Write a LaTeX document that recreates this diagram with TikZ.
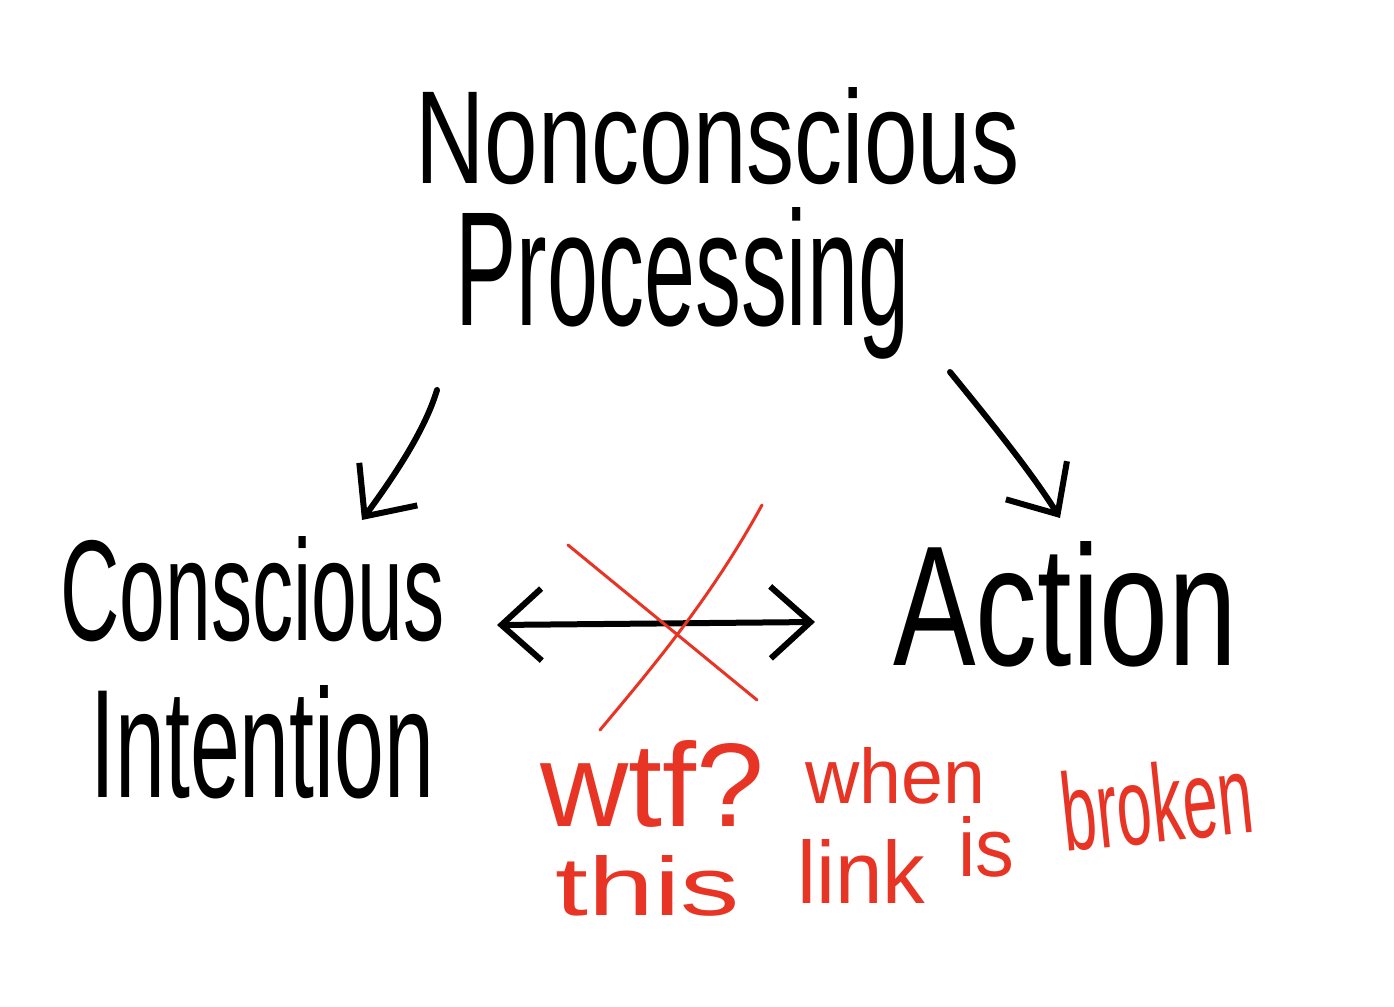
\documentclass[tikz,border=0pt]{standalone}
\usepackage{fontspec}
\setmainfont{Liberation Sans}
\usetikzlibrary{arrows.meta}
\definecolor{penred}{RGB}{232,52,36}
\begin{document}
\begin{tikzpicture}[x=0.5pt,y=-0.5pt,
  lbl/.style={inner sep=0pt, anchor=base west},
  redlbl/.style={lbl, text=penred},
  ink/.style={line width=3pt, line cap=round, line join=round},
  redline/.style={draw=penred, line width=1.5pt, line cap=round},
  barb/.tip={Straight Barb[length=20pt,width=36pt,line width=3pt]}]
\useasboundingbox (0,0) rectangle (1394,1007);
\fill[white] (0,0) rectangle (1394,1007);
% black labels
\node[lbl] (non) at (415,183) {\resizebox{302pt}{48pt}{Nonconscious}};
\node[lbl] (proc) at (455,325) {\resizebox{227pt}{59pt}{Processing}};
\node[lbl] (consc) at (60,640) {\resizebox{192pt}{52pt}{Conscious}};
\node[lbl] (inten) at (90,797) {\resizebox{172pt}{56pt}{Intention}};
\node[lbl] (act) at (893,665) {\resizebox{172pt}{62pt}{Action}};
% red labels
\node[redlbl] (wtf) at (540,826) {\resizebox{112pt}{43pt}{wtf?}};
\node[redlbl] (when) at (805,803) {\resizebox{90pt}{28pt}{when}};
\node[redlbl] (this) at (555,915) {\resizebox{92pt}{30pt}{this}};
\node[redlbl] (link) at (797,903) {\resizebox{64pt}{32pt}{link}};
\node[redlbl] (is) at (958,876) {\resizebox{28pt}{30pt}{is}};
\node[redlbl, rotate=6] (broken) at (1065,852) {\resizebox{96pt}{40pt}{broken}};
% arrow endpoints
\coordinate (a1s) at (437,390);
\coordinate (a1e) at (362,520);
\coordinate (a2s) at (950,372);
\coordinate (a2e) at (1060,518);
\coordinate (dl) at (497,625);
\coordinate (dr) at (815,622);
% arrows
\draw[ink,-barb] (a1s) .. controls (425,430) and (395,475) .. (a1e);
\draw[ink,-barb] (a2s) .. controls (985,415) and (1030,470) .. (a2e);
\draw[ink,barb-barb] (dl) -- (dr);
% red cross
\coordinate (x1) at (568,545);
\coordinate (x2) at (757,700);
\coordinate (x3) at (762,505);
\coordinate (x4) at (600,730);
\draw[redline] (x1) -- (x2);
\draw[redline] (x3) .. controls (710,600) and (650,670) .. (x4);
\end{tikzpicture}
\end{document}
